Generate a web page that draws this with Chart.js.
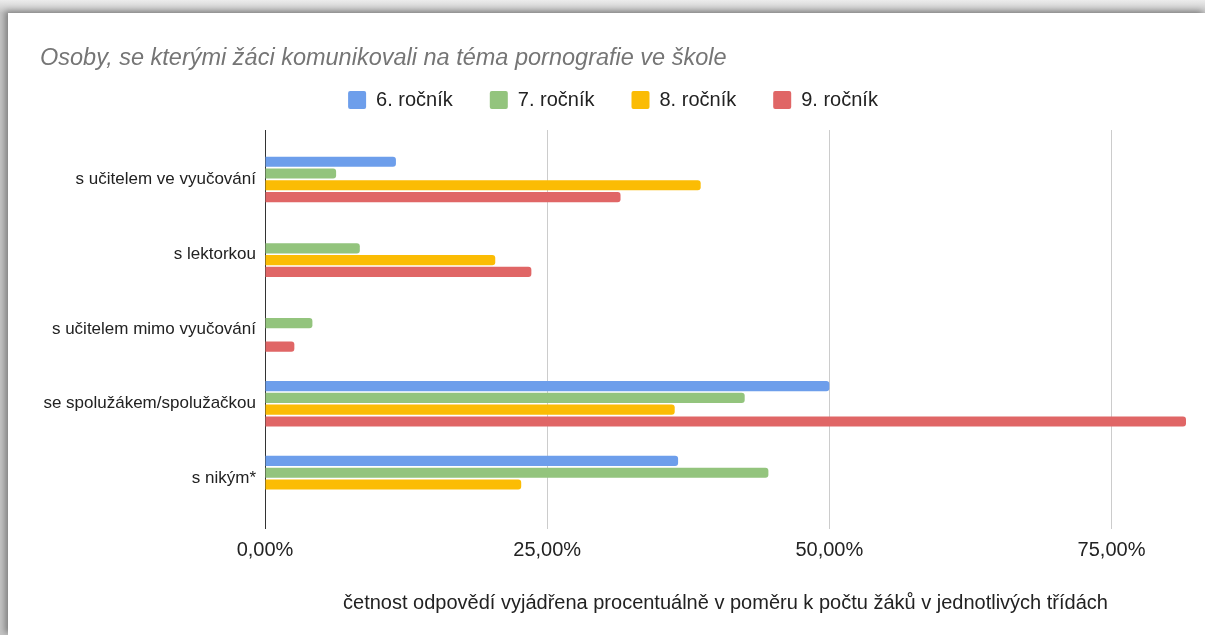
<!DOCTYPE html>
<html lang="cs">
<head>
<meta charset="utf-8">
<title>Osoby, se kterými žáci komunikovali na téma pornografie ve škole</title>
<script src="https://cdn.jsdelivr.net/npm/chart.js@4/dist/chart.umd.min.js"></script>
<style>
  html, body {
    margin: 0;
    padding: 0;
    width: 1205px;
    height: 635px;
    overflow: hidden;
    background: linear-gradient(#ececec, #c4c4c4 13px);
  }
  .card {
    position: absolute;
    left: 8px;
    top: 13px;
    width: 1197px;
    height: 622px;
    background: #fff;
    box-shadow: -3px -2px 6px rgba(0, 0, 0, 0.35);
  }
  canvas { display: block; }
</style>
</head>
<body>
<div class="card">
  <canvas id="plantMainChart" width="1197" height="622"></canvas>
</div>
<script>
// =============================================================================
// DATA
// =============================================================================
const categories = [
  "s učitelem ve vyučování",
  "s lektorkou",
  "s učitelem mimo vyučování",
  "se spolužákem/spolužačkou",
  "s nikým*"
];

const seriesNames = ["6. ročník", "7. ročník", "8. ročník", "9. ročník"];

// procenta (null = bez odpovědi)
const grade6 = [11.6, null, null, 50.0, 36.6];
const grade7 = [6.3, 8.4, 4.2, 42.5, 44.6];
const grade8 = [38.6, 20.4, null, 36.3, 22.7];
const grade9 = [31.5, 23.6, 2.6, 81.6, null];

const xTicks = [0, 25, 50, 75];
const xMax = 81.6;

const chartTitle = "Osoby, se kterými žáci komunikovali na téma pornografie ve škole";
const xAxisTitle = "četnost odpovědí vyjádřena procentuálně v poměru k počtu žáků v jednotlivých třídách";

// =============================================================================
// STYLE
// =============================================================================
const colors = ["#6d9eeb", "#93c47d", "#fbbc04", "#e06666"];
const FONT = "'Liberation Sans', Arial, sans-serif";

function fmtPct(v) {
  return v.toFixed(2).replace(".", ",") + "%";
}

function gridColor(ctx) {
  const v = ctx.tick ? ctx.tick.value : null;
  if (v === 0) return "#333333";
  if (xTicks.includes(v)) return "#cccccc";
  return "rgba(0,0,0,0)";
}

// =============================================================================
// CHART
// =============================================================================
const seriesData = [grade6, grade7, grade8, grade9];

const datasets = seriesData.map((d, i) => ({
  label: seriesNames[i],
  data: d,
  backgroundColor: colors[i],
  borderRadius: 3,
  borderSkipped: "start",
  barPercentage: 0.86,
  categoryPercentage: 0.63,
  xAxisID: "x"
}));

new Chart(document.getElementById("plantMainChart").getContext("2d"), {
  type: "bar",
  data: { labels: categories, datasets },
  options: {
    indexAxis: "y",
    responsive: false,
    animation: false,
    layout: {
      padding: { left: 32, right: 19, top: 0, bottom: 0 }
    },
    plugins: {
      title: {
        display: true,
        text: chartTitle,
        align: "start",
        color: "#757575",
        font: { family: FONT, size: 23.5, style: "italic", weight: "normal", lineHeight: 1 },
        padding: { top: 34, bottom: -17.5 }
      },
      legend: {
        display: true,
        position: "top",
        labels: {
          color: "#222222",
          font: { family: FONT, size: 20 },
          boxWidth: 18,
          boxHeight: 18,
          padding: 37,
          useBorderRadius: true,
          borderRadius: 2
        }
      },
      tooltip: { enabled: false }
    },
    scales: {
      x: {
        type: "linear",
        position: "bottom",
        min: 0,
        max: xMax,
        border: { display: false },
        grid: {
          color: gridColor,
          lineWidth: 1,
          drawTicks: true,
          tickLength: 13
        },
        ticks: {
          stepSize: 25,
          padding: 9,
          color: "#222222",
          font: { family: FONT, size: 20 },
          maxRotation: 0,
          autoSkip: false,
          callback: v => (xTicks.includes(v) ? fmtPct(v) : "")
        },
        title: {
          display: true,
          text: xAxisTitle,
          color: "#222222",
          font: { family: FONT, size: 20 },
          padding: { top: 20, bottom: 20 }
        }
      },
      xTop: {
        type: "linear",
        position: "top",
        min: 0,
        max: xMax,
        display: true,
        border: { display: false },
        grid: {
          color: gridColor,
          drawOnChartArea: false,
          drawTicks: true,
          tickLength: 12
        },
        ticks: { display: false, stepSize: 25 },
        afterFit: s => { s.height = 22; }
      },
      y: {
        type: "category",
        border: { display: false },
        grid: { display: false, drawTicks: false },
        ticks: {
          color: "#222222",
          font: { family: FONT, size: 17 },
          padding: 9
        },
        afterFit: s => { s.width = 225; }
      }
    }
  }
});
</script>
</body>
</html>
